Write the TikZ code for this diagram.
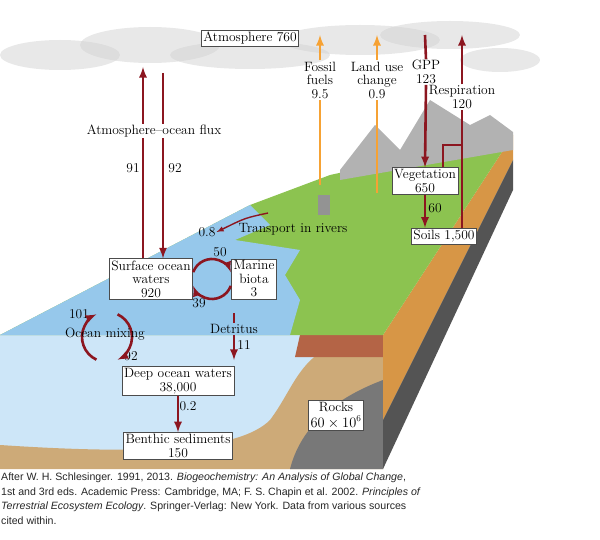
\documentclass[tikz,border=0pt]{standalone}
\usepackage{fontspec}
\newfontfamily\capfont{Liberation Sans}
\usepackage{tikz}
\usetikzlibrary{calc, positioning}
\definecolor{flux}{RGB}{140,22,32}
\definecolor{fossil}{RGB}{246,162,52}
\definecolor{sea}{RGB}{150,200,235}
\definecolor{deepsea}{RGB}{205,230,248}
\definecolor{land}{RGB}{140,195,80}
\definecolor{sand}{RGB}{205,170,120}
\definecolor{clay}{RGB}{180,100,70}
\definecolor{rock}{RGB}{120,120,120}
\definecolor{soil}{RGB}{215,150,70}
\tikzset{
pool/.style={draw=black!70, fill=white, inner sep=2pt, align=center, font=\fontsize{13.5}{13.5}\selectfont},
lbl/.style={align=center, inner sep=1pt, font=\fontsize{13.5}{13.5}\selectfont},
cflux/.style={-latex, flux, line width=2.6pt},
hflux/.style={-latex, fossil, line width=2.6pt},
cloud/.style={fill=gray!35, opacity=0.5}
}
\begin{document}
\begin{tikzpicture}[x=1pt, y=-1pt]
\useasboundingbox (0,0) rectangle (600,540);
% ---- scene
\foreach \cx/\cy/\rx/\ry in {60/55/60/15, 150/45/70/18, 250/55/80/14, 360/40/80/15, 450/35/70/14, 500/60/40/12}
  \fill[cloud] (\cx,\cy) ellipse [x radius=\rx, y radius=\ry];
\fill[deepsea] (0,335) -- (383,335) -- (383,469) -- (0,469) -- cycle;
\fill[sand] (0,445) .. controls (150,455) and (240,450) .. (270,420)
  .. controls (300,380) and (300,340) .. (383,335) -- (383,469) -- (0,469) -- cycle;
\fill[clay] (300,335) -- (383,335) -- (383,357) -- (295,357) -- cycle;
\fill[rock] (290,469) .. controls (300,430) and (330,400) .. (383,380) -- (383,469) -- cycle;
\fill[soil] (383,335) -- (513,135) -- (513,160) -- (383,420) -- cycle;
\fill[rock!70!black] (383,420) -- (513,160) -- (513,190) -- (383,469) -- cycle;
\fill[land] (0,335) -- (250,205) -- (330,175) -- (513,135) -- (383,335) -- cycle;
\fill[sea] (0,335) -- (250,205) -- (270,225) -- (235,240) -- (300,250)
  -- (285,275) -- (300,300) -- (290,335) -- cycle;
\fill[gray!60] (340,170) -- (375,125) -- (400,150) -- (430,100) -- (470,125)
  -- (490,115) -- (513,132) -- (513,150) -- (340,180) -- cycle;
\fill[gray!85] (318,215) rectangle (330,195);
% ---- pools
\node[pool] (atm) at (250,38) {Atmosphere 760};
\node[pool] (veg) at (425,181) {Vegetation\\650};
\node[pool] (soils) at (444,236) {Soils 1,500};
\node[pool] (surf) at (151,279) {Surface ocean\\waters\\920};
\node[pool] (biota) at (254,279) {Marine\\biota\\3};
\node[pool] (deep) at (178,381) {Deep ocean waters\\38,000};
\node[pool] (benth) at (178,446) {Benthic sediments\\150};
\node[pool, font=\fontsize{13.5}{16}\selectfont] (rocks) at (336,415) {Rocks\\$60\times10^{6}$};
% ---- labels
\node[lbl] (aoflux) at (154,131) {Atmosphere--ocean flux};
\node[lbl] (fossil) at (320,80) {Fossil\\fuels\\9.5};
\node[lbl] (landuse) at (377,80) {Land use\\change\\0.9};
\node[lbl] (gpp) at (426,72) {GPP\\123};
\node[lbl] (resp) at (462,97) {Respiration\\120};
\node[lbl] at (133,168) {91};
\node[lbl] at (175,168) {92};
\node[lbl] (river) at (293,229) {Transport in rivers};
\node[lbl] (rv) at (207,232) {0.8};
\node[lbl] at (220,252) {50};
\node[lbl] at (199,303) {39};
\node[lbl] at (79,314) {101};
\node[lbl] at (131,356) {92};
\node[lbl] at (244,345) {11};
\node[lbl] at (188,406) {0.2};
\node[lbl] at (435,208) {60};
\coordinate (atmL) at (143,67);
\coordinate (atmR) at (163,73);
\coordinate (topF) at (320,35);
\coordinate (topL) at (377,35);
\coordinate (topG) at (425,35);
\coordinate (topR) at (462,35);
\coordinate (fact) at (320,185);
\coordinate (farm) at (377,193);
\coordinate (branch) at (443,145);
% ---- fluxes
\draw[flux, line width=2.6pt] (surf.north -| atmL) -- (aoflux.south -| atmL);
\draw[cflux] (aoflux.north -| atmL) -- (atmL);
\draw[flux, line width=2.6pt] (atmR) -- (aoflux.north -| atmR);
\draw[cflux] (aoflux.south -| atmR) -- (surf.north -| atmR);
\draw[fossil, line width=2.6pt] (fact) -- (fossil.south);
\draw[hflux] (fossil.north) -- (topF);
\draw[fossil, line width=2.6pt] (farm) -- (landuse.south);
\draw[hflux] (landuse.north) -- (topL);
\draw[flux, line width=2.6pt] (topG) -- (gpp.north);
\draw[cflux] (gpp.south) -- (veg.north);
\draw[flux, line width=2.6pt] (soils.north -| topR) -- (resp.south);
\draw[cflux] (resp.north) -- (topR);
\draw[flux, line width=2.6pt] (veg.north -| branch) -- (branch) -- (branch -| topR);
\draw[cflux] (veg.south) -- (veg.south |- soils.north);
\draw[-latex, flux, line width=1.4pt] (268,213) .. controls (245,218) .. (rv.east);
\draw[cflux] (212,279) ++(200:20) arc[start angle=200, end angle=340, radius=20];
\draw[cflux] (212,279) ++(20:20) arc[start angle=20, end angle=160, radius=20];
\draw[cflux] (107,337) ++(115:25) arc[start angle=115, end angle=245, radius=25];
\draw[cflux] (107,337) ++(295:25) arc[start angle=295, end angle=425, radius=25];
\node[lbl] (mixing) at (105,334) {Ocean mixing};
\node[lbl] (detritus) at (234,329) {Detritus};
\draw[flux, line width=2.6pt] (234,313) -- (detritus.north);
\draw[cflux] (detritus.south) -- (234,360);
\draw[cflux] (deep.south) -- (benth.north);
% ---- caption
\node[anchor=north west, align=left, inner sep=0pt,
  font=\capfont\fontsize{10.6}{14.5}\selectfont, text=black!85] (caption) at (1,473)
  {After W. H. Schlesinger. 1991, 2013. \textit{Biogeochemistry: An Analysis of Global Change},\\
  1st and 3rd eds. Academic Press: Cambridge, MA; F. S. Chapin et al. 2002. \textit{Principles of}\\
  \textit{Terrestrial Ecosystem Ecology}. Springer-Verlag: New York. Data from various sources\\
  cited within.};
\end{tikzpicture}
\end{document}
